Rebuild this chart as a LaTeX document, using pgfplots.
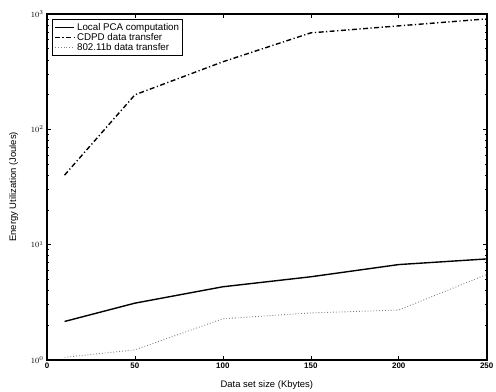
\documentclass[border=0pt]{standalone}
\usepackage{pgfplots}
\pgfplotsset{compat=1.18}
\usepackage{fontspec}
\setmainfont{Liberation Sans}
\begin{document}
\begin{tikzpicture}
\begin{axis}[
  name=ax,
  scale only axis,
  width=440bp, height=346bp,
  xmin=0, xmax=250,
  ymode=log, ymin=1, ymax=1000,
  xtick={0,50,100,150,200,250},
  ytick={1,10,100,1000},
  tick align=inside,
  major tick length=4bp,
  minor tick length=2bp,
  axis line style={line width=1.6pt},
  every tick/.style={black, line width=0.6pt},
  tick label style={font=\fontsize{8}{9}\selectfont\bfseries},
  /pgf/number format/assume math mode=true,
  yticklabel={$10^{\pgfmathparse{int(round(\tick/ln(10)))}\pgfmathresult}$},
  yticklabel style={font=\fontsize{8}{9}\selectfont\bfseries},
  xlabel={Data set size (Kbytes)},
  ylabel={Energy Utilization (Joules)},
  label style={font=\fontsize{9.5}{10}\selectfont},
  xlabel style={yshift=-5bp},
  ylabel style={yshift=6bp},
  legend style={at={(0.012,0.985)}, anchor=north west, font=\fontsize{9.8}{10}\selectfont, draw=black, line width=0.9pt, inner sep=1.5pt, row sep=-2.5pt},
  legend image post style={xscale=1.15},
  legend cell align=left,
]
\addplot[black, line width=1.4pt] coordinates {(10,2.15) (50,3.1) (100,4.3) (150,5.25) (200,6.7) (250,7.5)};
\addlegendentry{Local PCA computation}
\addplot[black, line width=1.4pt, dash pattern=on 5pt off 2.5pt on 1.2pt off 2.5pt] coordinates {(10,40) (50,199) (100,385) (150,686) (200,789) (250,907)};
\addlegendentry{CDPD data transfer}
\addplot[gray, line width=0.9pt, dotted] coordinates {(10,1.05) (50,1.22) (100,2.27) (150,2.55) (200,2.7) (250,5.5)};
\addlegendentry{802.11b data transfer}
\end{axis}
\pgfresetboundingbox
\useasboundingbox (ax.south west) ++(-47bp,-32bp) rectangle ([xshift=9.3bp,yshift=14bp]ax.north east);
\end{tikzpicture}
\end{document}
